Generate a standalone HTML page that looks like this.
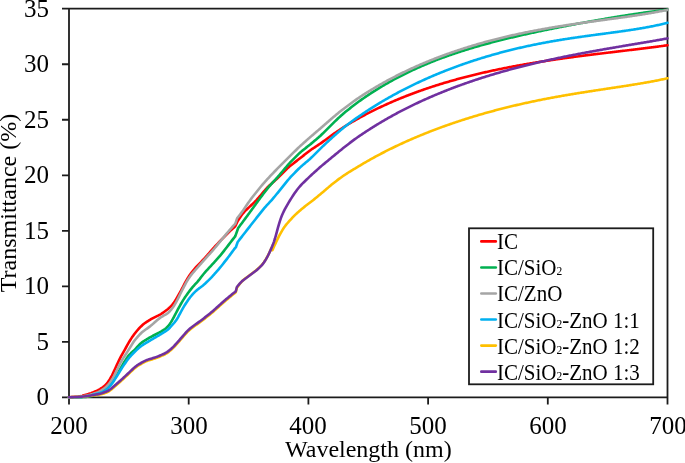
<!DOCTYPE html>
<html><head><meta charset="utf-8"><style>
html,body{margin:0;padding:0;background:#fff;width:685px;height:463px;overflow:hidden}
.t{position:absolute;font-family:"Liberation Serif",serif;color:#000;white-space:nowrap;line-height:1;will-change:transform}
.yl{font-size:25px;text-align:right;width:60px;left:-11.3px}
.xl{font-size:25px;text-align:center;width:80px;top:413.3px}
.lg{font-size:21px;left:497.0px;transform:scaleY(1.05);transform-origin:0 0}
.sub{font-size:11.5px}
svg{position:absolute;left:0;top:0}
</style></head><body>
<svg width="685" height="463" viewBox="0 0 685 463">

<g stroke="#1c1c1c" stroke-width="1.8" fill="none">
<path d="M62.00,8.70 H667.50 V404.40"/>
<path d="M69.00,8.70 V404.40"/>
<path d="M62.00,397.40 H667.50"/>
<path d="M62.00,341.87 H69.00 M62.00,286.34 H69.00 M62.00,230.81 H69.00 M62.00,175.29 H69.00 M62.00,119.76 H69.00 M62.00,64.23 H69.00 M188.70,397.40 V404.40 M308.40,397.40 V404.40 M428.10,397.40 V404.40 M547.80,397.40 V404.40"/>
<rect x="469" y="228.3" width="184.2" height="156"/>
</g>
<g fill="none" stroke-width="2.6" stroke-linecap="round" stroke-linejoin="round">
<path stroke="#FF0000" d="M69.0,397.40 70.0,397.32 71.0,397.24 72.0,397.16 73.0,397.08 74.0,397.00 75.0,396.92 76.0,396.84 77.0,396.75 78.0,396.65 79.0,396.52 80.0,396.35 81.0,396.14 82.0,395.90 83.0,395.62 84.0,395.33 85.0,395.04 86.0,394.74 87.0,394.44 88.0,394.13 89.0,393.81 90.0,393.47 91.0,393.12 92.0,392.74 93.0,392.35 94.0,391.96 95.0,391.56 96.0,391.15 97.0,390.73 98.0,390.25 99.0,389.70 100.0,389.10 101.0,388.46 102.0,387.79 103.0,387.08 104.0,386.31 105.0,385.43 106.0,384.43 107.0,383.29 108.0,382.00 109.0,380.58 110.0,379.01 111.0,377.27 112.0,375.36 113.0,373.31 114.0,371.17 115.0,368.98 116.0,366.79 117.0,364.61 118.0,362.46 119.0,360.38 120.0,358.37 121.0,356.45 122.0,354.60 123.0,352.81 124.0,351.04 125.0,349.27 126.0,347.49 127.0,345.70 128.0,343.91 129.0,342.16 130.0,340.47 131.0,338.87 132.0,337.35 133.0,335.92 134.0,334.55 135.0,333.23 136.0,331.95 137.0,330.73 138.0,329.57 139.0,328.48 140.0,327.44 141.0,326.44 142.0,325.49 143.0,324.59 144.0,323.76 145.0,323.01 146.0,322.32 147.0,321.67 148.0,321.04 149.0,320.42 150.0,319.81 151.0,319.21 152.0,318.64 153.0,318.09 154.0,317.57 155.0,317.07 156.0,316.59 157.0,316.10 158.0,315.62 159.0,315.11 160.0,314.58 161.0,314.00 162.0,313.36 163.0,312.69 164.0,311.97 165.0,311.24 166.0,310.49 167.0,309.72 168.0,308.91 169.0,308.05 170.0,307.13 171.0,306.13 172.0,305.03 173.0,303.81 174.0,302.45 175.0,300.97 176.0,299.39 177.0,297.73 178.0,296.02 179.0,294.25 180.0,292.44 181.0,290.58 182.0,288.69 183.0,286.76 184.0,284.83 185.0,282.92 186.0,281.07 187.0,279.31 188.0,277.65 189.0,276.11 190.0,274.67 191.0,273.30 192.0,271.98 193.0,270.71 194.0,269.48 195.0,268.31 196.0,267.20 197.0,266.14 198.0,265.11 199.0,264.10 200.0,263.09 201.0,262.06 202.0,261.02 203.0,259.95 204.0,258.86 205.0,257.76 206.0,256.64 207.0,255.51 208.0,254.38 209.0,253.25 210.0,252.12 211.0,250.98 212.0,249.85 213.0,248.71 214.0,247.59 215.0,246.49 216.0,245.40 217.0,244.34 218.0,243.29 219.0,242.24 220.0,241.20 221.0,240.16 222.0,239.12 223.0,238.09 224.0,237.07 225.0,236.05 226.0,235.05 227.0,234.07 228.0,233.09 229.0,232.12 230.0,231.14 231.0,230.18 232.0,229.22 233.0,228.30 234.0,227.42 235.0,226.59 235.5,225.80 237.7,221.00 238.7,219.48 239.7,217.97 240.7,216.49 241.7,215.07 242.7,213.75 243.7,212.55 244.7,211.45 245.7,210.43 246.7,209.47 247.7,208.52 248.7,207.59 249.7,206.66 250.7,205.72 251.7,204.79 252.7,203.85 253.7,202.90 254.7,201.93 255.7,200.91 256.7,199.85 257.7,198.74 258.7,197.59 259.7,196.41 260.7,195.22 261.7,194.03 262.7,192.84 263.7,191.65 264.7,190.48 265.7,189.35 266.7,188.25 267.7,187.22 268.7,186.24 269.7,185.30 270.7,184.38 271.7,183.48 272.7,182.58 273.7,181.68 274.7,180.78 275.7,179.87 276.7,178.95 277.7,178.01 278.7,177.04 279.7,176.06 280.7,175.07 281.7,174.06 282.7,173.05 283.7,172.05 284.7,171.04 285.7,170.04 286.7,169.06 287.7,168.12 288.7,167.21 289.7,166.35 290.7,165.53 291.7,164.73 292.7,163.95 293.7,163.18 294.7,162.40 295.7,161.63 296.7,160.85 297.7,160.08 298.7,159.30 299.7,158.52 300.7,157.73 301.7,156.95 302.7,156.16 303.7,155.36 304.7,154.57 305.7,153.78 306.7,152.99 307.7,152.21 308.7,151.45 309.7,150.71 310.7,149.99 311.7,149.30 312.7,148.63 313.7,147.97 314.7,147.31 315.7,146.65 316.7,145.99 317.7,145.33 318.7,144.67 319.7,144.01 320.7,143.32 321.7,142.61 322.7,141.89 323.7,141.16 324.7,140.42 325.7,139.67 326.7,138.92 327.7,138.18 328.7,137.44 329.7,136.70 330.7,135.97 331.7,135.26 332.7,134.55 333.7,133.85 334.7,133.17 335.7,132.49 336.7,131.81 337.7,131.13 338.7,130.46 339.7,129.80 340.7,129.13 341.7,128.47 342.7,127.81 343.7,127.16 344.7,126.51 345.7,125.87 346.7,125.24 347.7,124.61 348.7,124.00 349.7,123.40 350.7,122.80 351.7,122.22 352.7,121.65 353.7,121.08 354.7,120.51 355.7,119.94 356.7,119.37 357.7,118.81 358.7,118.25 359.7,117.69 360.7,117.14 361.7,116.60 362.7,116.06 363.7,115.52 364.7,114.99 365.7,114.47 366.7,113.94 367.7,113.42 368.7,112.91 369.7,112.39 370.7,111.89 371.7,111.38 372.7,110.88 373.7,110.38 374.7,109.89 375.7,109.40 376.7,108.91 377.7,108.43 378.7,107.95 379.7,107.47 380.7,107.00 381.7,106.53 382.7,106.06 383.7,105.60 384.7,105.14 385.7,104.69 386.7,104.23 387.7,103.78 388.7,103.34 389.7,102.89 390.7,102.45 391.7,102.02 392.7,101.58 393.7,101.15 394.7,100.73 395.7,100.30 396.7,99.88 397.7,99.46 398.7,99.05 399.7,98.63 400.7,98.23 401.7,97.82 402.7,97.42 403.7,97.02 404.7,96.62 405.7,96.22 406.7,95.83 407.7,95.44 408.7,95.05 409.7,94.67 410.7,94.29 411.7,93.91 412.7,93.53 413.7,93.16 414.7,92.79 415.7,92.42 416.7,92.06 417.7,91.70 418.7,91.34 419.7,90.98 420.7,90.62 421.7,90.27 422.7,89.92 423.7,89.57 424.7,89.23 425.7,88.89 426.7,88.54 427.7,88.21 428.7,87.87 429.7,87.54 430.7,87.21 431.7,86.88 432.7,86.55 433.7,86.23 434.7,85.91 435.7,85.59 436.7,85.27 437.7,84.96 438.7,84.64 439.7,84.33 440.7,84.02 441.7,83.72 442.7,83.41 443.7,83.11 444.7,82.81 445.7,82.51 446.7,82.22 447.7,81.92 448.7,81.63 449.7,81.34 450.7,81.05 451.7,80.77 452.7,80.49 453.7,80.20 454.7,79.92 455.7,79.65 456.7,79.37 457.7,79.10 458.7,78.82 459.7,78.55 460.7,78.29 461.7,78.02 462.7,77.75 463.7,77.49 464.7,77.23 465.7,76.97 466.7,76.71 467.7,76.46 468.7,76.20 469.7,75.95 470.7,75.70 471.7,75.45 472.7,75.20 473.7,74.96 474.7,74.71 475.7,74.47 476.7,74.23 477.7,73.99 478.7,73.76 479.7,73.52 480.7,73.29 481.7,73.05 482.7,72.82 483.7,72.59 484.7,72.37 485.7,72.14 486.7,71.91 487.7,71.69 488.7,71.47 489.7,71.25 490.7,71.03 491.7,70.81 492.7,70.60 493.7,70.38 494.7,70.17 495.7,69.96 496.7,69.75 497.7,69.54 498.7,69.33 499.7,69.13 500.7,68.92 501.7,68.72 502.7,68.52 503.7,68.32 504.7,68.12 505.7,67.92 506.7,67.72 507.7,67.53 508.7,67.33 509.7,67.14 510.7,66.95 511.7,66.76 512.7,66.57 513.7,66.38 514.7,66.20 515.7,66.01 516.7,65.83 517.7,65.64 518.7,65.46 519.7,65.28 520.7,65.10 521.7,64.92 522.7,64.74 523.7,64.57 524.7,64.39 525.7,64.22 526.7,64.05 527.7,63.87 528.7,63.70 529.7,63.53 530.7,63.37 531.7,63.20 532.7,63.03 533.7,62.87 534.7,62.70 535.7,62.54 536.7,62.38 537.7,62.21 538.7,62.05 539.7,61.89 540.7,61.74 541.7,61.58 542.7,61.42 543.7,61.26 544.7,61.11 545.7,60.96 546.7,60.80 547.7,60.65 548.7,60.50 549.7,60.35 550.7,60.20 551.7,60.05 552.7,59.90 553.7,59.75 554.7,59.61 555.7,59.46 556.7,59.32 557.7,59.17 558.7,59.03 559.7,58.89 560.7,58.74 561.7,58.60 562.7,58.46 563.7,58.32 564.7,58.18 565.7,58.05 566.7,57.91 567.7,57.77 568.7,57.64 569.7,57.50 570.7,57.36 571.7,57.23 572.7,57.10 573.7,56.96 574.7,56.83 575.7,56.70 576.7,56.57 577.7,56.44 578.7,56.31 579.7,56.18 580.7,56.05 581.7,55.92 582.7,55.79 583.7,55.66 584.7,55.53 585.7,55.41 586.7,55.28 587.7,55.15 588.7,55.03 589.7,54.90 590.7,54.78 591.7,54.65 592.7,54.53 593.7,54.41 594.7,54.28 595.7,54.16 596.7,54.04 597.7,53.91 598.7,53.79 599.7,53.67 600.7,53.55 601.7,53.43 602.7,53.31 603.7,53.18 604.7,53.06 605.7,52.94 606.7,52.82 607.7,52.70 608.7,52.58 609.7,52.46 610.7,52.34 611.7,52.22 612.7,52.11 613.7,51.99 614.7,51.87 615.7,51.75 616.7,51.63 617.7,51.51 618.7,51.39 619.7,51.27 620.7,51.15 621.7,51.03 622.7,50.91 623.7,50.79 624.7,50.68 625.7,50.56 626.7,50.44 627.7,50.32 628.7,50.20 629.7,50.08 630.7,49.96 631.7,49.84 632.7,49.72 633.7,49.60 634.7,49.48 635.7,49.35 636.7,49.23 637.7,49.11 638.7,48.99 639.7,48.87 640.7,48.74 641.7,48.62 642.7,48.50 643.7,48.37 644.7,48.25 645.7,48.12 646.7,48.00 647.7,47.87 648.7,47.75 649.7,47.62 650.7,47.49 651.7,47.37 652.7,47.24 653.7,47.11 654.7,46.98 655.7,46.85 656.7,46.72 657.7,46.59 658.7,46.45 659.7,46.32 660.7,46.19 661.7,46.05 662.7,45.92 663.7,45.78 664.7,45.64 665.7,45.51 666.7,45.37 667.5,45.26"/>
<path stroke="#00B050" d="M69.0,397.40 70.0,397.38 71.0,397.36 72.0,397.33 73.0,397.31 74.0,397.29 75.0,397.27 76.0,397.25 77.0,397.22 78.0,397.20 79.0,397.18 80.0,397.16 81.0,397.14 82.0,397.11 83.0,397.07 84.0,397.02 85.0,396.94 86.0,396.84 87.0,396.71 88.0,396.57 89.0,396.42 90.0,396.26 91.0,396.10 92.0,395.93 93.0,395.74 94.0,395.50 95.0,395.21 96.0,394.84 97.0,394.41 98.0,393.95 99.0,393.45 100.0,392.95 101.0,392.42 102.0,391.86 103.0,391.27 104.0,390.63 105.0,389.87 106.0,389.05 107.0,388.19 108.0,387.28 109.0,386.29 110.0,385.19 111.0,383.95 112.0,382.60 113.0,381.16 114.0,379.63 115.0,378.03 116.0,376.35 117.0,374.61 118.0,372.83 119.0,371.04 120.0,369.27 121.0,367.53 122.0,365.82 123.0,364.15 124.0,362.51 125.0,360.90 126.0,359.33 127.0,357.82 128.0,356.43 129.0,355.17 130.0,354.06 131.0,353.07 132.0,352.16 133.0,351.26 134.0,350.33 135.0,349.33 136.0,348.28 137.0,347.20 138.0,346.10 139.0,345.04 140.0,344.05 141.0,343.15 142.0,342.36 143.0,341.65 144.0,341.00 145.0,340.38 146.0,339.77 147.0,339.17 148.0,338.57 149.0,337.97 150.0,337.39 151.0,336.82 152.0,336.27 153.0,335.74 154.0,335.23 155.0,334.72 156.0,334.23 157.0,333.72 158.0,333.21 159.0,332.69 160.0,332.13 161.0,331.56 162.0,330.95 163.0,330.33 164.0,329.68 165.0,328.99 166.0,328.22 167.0,327.32 168.0,326.26 169.0,325.03 170.0,323.64 171.0,322.12 172.0,320.47 173.0,318.71 174.0,316.85 175.0,314.94 176.0,313.01 177.0,311.09 178.0,309.20 179.0,307.34 180.0,305.52 181.0,303.75 182.0,302.03 183.0,300.39 184.0,298.83 185.0,297.32 186.0,295.86 187.0,294.43 188.0,293.03 189.0,291.68 190.0,290.36 191.0,289.08 192.0,287.84 193.0,286.65 194.0,285.52 195.0,284.45 196.0,283.41 197.0,282.33 198.0,281.17 199.0,279.92 200.0,278.61 201.0,277.28 202.0,275.97 203.0,274.71 204.0,273.51 205.0,272.36 206.0,271.24 207.0,270.15 208.0,269.06 209.0,267.98 210.0,266.89 211.0,265.80 212.0,264.71 213.0,263.62 214.0,262.52 215.0,261.42 216.0,260.31 217.0,259.20 218.0,258.09 219.0,256.96 220.0,255.81 221.0,254.63 222.0,253.40 223.0,252.14 224.0,250.86 225.0,249.57 226.0,248.27 227.0,246.97 228.0,245.66 229.0,244.35 230.0,243.02 231.0,241.69 232.0,240.37 233.0,239.08 234.0,237.86 235.0,236.70 235.5,235.60 238.2,228.00 239.2,226.67 240.2,225.33 241.2,224.00 242.2,222.67 243.2,221.33 244.2,219.99 245.2,218.65 246.2,217.30 247.2,215.93 248.2,214.56 249.2,213.19 250.2,211.80 251.2,210.42 252.2,209.04 253.2,207.66 254.2,206.27 255.2,204.89 256.2,203.51 257.2,202.14 258.2,200.78 259.2,199.43 260.2,198.08 261.2,196.75 262.2,195.41 263.2,194.08 264.2,192.76 265.2,191.44 266.2,190.14 267.2,188.87 268.2,187.64 269.2,186.45 270.2,185.31 271.2,184.18 272.2,183.07 273.2,181.97 274.2,180.87 275.2,179.76 276.2,178.66 277.2,177.54 278.2,176.41 279.2,175.26 280.2,174.10 281.2,172.92 282.2,171.74 283.2,170.54 284.2,169.35 285.2,168.16 286.2,166.97 287.2,165.79 288.2,164.63 289.2,163.50 290.2,162.41 291.2,161.35 292.2,160.32 293.2,159.31 294.2,158.30 295.2,157.30 296.2,156.30 297.2,155.32 298.2,154.34 299.2,153.40 300.2,152.49 301.2,151.63 302.2,150.80 303.2,149.99 304.2,149.20 305.2,148.41 306.2,147.62 307.2,146.83 308.2,146.04 309.2,145.24 310.2,144.44 311.2,143.62 312.2,142.79 313.2,141.95 314.2,141.10 315.2,140.25 316.2,139.40 317.2,138.55 318.2,137.69 319.2,136.83 320.2,135.95 321.2,135.01 322.2,134.05 323.2,133.07 324.2,132.07 325.2,131.07 326.2,130.06 327.2,129.06 328.2,128.06 329.2,127.06 330.2,126.07 331.2,125.08 332.2,124.10 333.2,123.12 334.2,122.14 335.2,121.17 336.2,120.21 337.2,119.26 338.2,118.31 339.2,117.38 340.2,116.45 341.2,115.55 342.2,114.66 343.2,113.79 344.2,112.95 345.2,112.12 346.2,111.31 347.2,110.51 348.2,109.70 349.2,108.91 350.2,108.12 351.2,107.33 352.2,106.54 353.2,105.76 354.2,104.97 355.2,104.20 356.2,103.44 357.2,102.69 358.2,101.96 359.2,101.25 360.2,100.56 361.2,99.85 362.2,99.15 363.2,98.45 364.2,97.76 365.2,97.08 366.2,96.40 367.2,95.73 368.2,95.06 369.2,94.39 370.2,93.74 371.2,93.08 372.2,92.44 373.2,91.79 374.2,91.16 375.2,90.53 376.2,89.90 377.2,89.28 378.2,88.66 379.2,88.05 380.2,87.44 381.2,86.84 382.2,86.24 383.2,85.65 384.2,85.06 385.2,84.48 386.2,83.90 387.2,83.32 388.2,82.75 389.2,82.19 390.2,81.63 391.2,81.07 392.2,80.52 393.2,79.98 394.2,79.43 395.2,78.90 396.2,78.36 397.2,77.83 398.2,77.31 399.2,76.79 400.2,76.27 401.2,75.76 402.2,75.25 403.2,74.74 404.2,74.24 405.2,73.75 406.2,73.25 407.2,72.77 408.2,72.28 409.2,71.80 410.2,71.32 411.2,70.85 412.2,70.38 413.2,69.91 414.2,69.45 415.2,68.99 416.2,68.54 417.2,68.09 418.2,67.64 419.2,67.20 420.2,66.76 421.2,66.32 422.2,65.89 423.2,65.46 424.2,65.03 425.2,64.61 426.2,64.19 427.2,63.77 428.2,63.36 429.2,62.95 430.2,62.54 431.2,62.14 432.2,61.73 433.2,61.34 434.2,60.94 435.2,60.55 436.2,60.16 437.2,59.78 438.2,59.39 439.2,59.01 440.2,58.64 441.2,58.26 442.2,57.89 443.2,57.52 444.2,57.16 445.2,56.80 446.2,56.44 447.2,56.08 448.2,55.72 449.2,55.37 450.2,55.02 451.2,54.68 452.2,54.33 453.2,53.99 454.2,53.65 455.2,53.31 456.2,52.98 457.2,52.65 458.2,52.32 459.2,51.99 460.2,51.66 461.2,51.34 462.2,51.02 463.2,50.70 464.2,50.39 465.2,50.07 466.2,49.76 467.2,49.45 468.2,49.14 469.2,48.84 470.2,48.53 471.2,48.23 472.2,47.93 473.2,47.64 474.2,47.34 475.2,47.05 476.2,46.76 477.2,46.47 478.2,46.18 479.2,45.89 480.2,45.61 481.2,45.33 482.2,45.05 483.2,44.77 484.2,44.49 485.2,44.22 486.2,43.94 487.2,43.67 488.2,43.40 489.2,43.13 490.2,42.87 491.2,42.60 492.2,42.34 493.2,42.07 494.2,41.81 495.2,41.55 496.2,41.30 497.2,41.04 498.2,40.78 499.2,40.53 500.2,40.28 501.2,40.03 502.2,39.78 503.2,39.53 504.2,39.28 505.2,39.04 506.2,38.79 507.2,38.55 508.2,38.31 509.2,38.07 510.2,37.83 511.2,37.59 512.2,37.36 513.2,37.12 514.2,36.89 515.2,36.65 516.2,36.42 517.2,36.19 518.2,35.96 519.2,35.73 520.2,35.50 521.2,35.27 522.2,35.05 523.2,34.82 524.2,34.60 525.2,34.38 526.2,34.15 527.2,33.93 528.2,33.71 529.2,33.49 530.2,33.28 531.2,33.06 532.2,32.84 533.2,32.63 534.2,32.41 535.2,32.20 536.2,31.98 537.2,31.77 538.2,31.56 539.2,31.35 540.2,31.14 541.2,30.93 542.2,30.72 543.2,30.51 544.2,30.31 545.2,30.10 546.2,29.89 547.2,29.69 548.2,29.48 549.2,29.28 550.2,29.08 551.2,28.88 552.2,28.67 553.2,28.47 554.2,28.27 555.2,28.07 556.2,27.88 557.2,27.68 558.2,27.48 559.2,27.28 560.2,27.09 561.2,26.89 562.2,26.69 563.2,26.50 564.2,26.31 565.2,26.11 566.2,25.92 567.2,25.73 568.2,25.53 569.2,25.34 570.2,25.15 571.2,24.96 572.2,24.77 573.2,24.58 574.2,24.40 575.2,24.21 576.2,24.02 577.2,23.83 578.2,23.65 579.2,23.46 580.2,23.28 581.2,23.09 582.2,22.91 583.2,22.72 584.2,22.54 585.2,22.36 586.2,22.17 587.2,21.99 588.2,21.81 589.2,21.63 590.2,21.45 591.2,21.27 592.2,21.09 593.2,20.91 594.2,20.74 595.2,20.56 596.2,20.38 597.2,20.21 598.2,20.03 599.2,19.85 600.2,19.68 601.2,19.51 602.2,19.33 603.2,19.16 604.2,18.99 605.2,18.81 606.2,18.64 607.2,18.47 608.2,18.30 609.2,18.13 610.2,17.96 611.2,17.80 612.2,17.63 613.2,17.46 614.2,17.30 615.2,17.13 616.2,16.97 617.2,16.80 618.2,16.64 619.2,16.47 620.2,16.31 621.2,16.15 622.2,15.99 623.2,15.83 624.2,15.67 625.2,15.51 626.2,15.35 627.2,15.20 628.2,15.04 629.2,14.89 630.2,14.73 631.2,14.58 632.2,14.42 633.2,14.27 634.2,14.12 635.2,13.97 636.2,13.82 637.2,13.67 638.2,13.52 639.2,13.38 640.2,13.23 641.2,13.09 642.2,12.94 643.2,12.80 644.2,12.66 645.2,12.52 646.2,12.38 647.2,12.24 648.2,12.10 649.2,11.97 650.2,11.83 651.2,11.70 652.2,11.57 653.2,11.43 654.2,11.30 655.2,11.17 656.2,11.05 657.2,10.92 658.2,10.79 659.2,10.67 660.2,10.55 661.2,10.43 662.2,10.31 663.2,10.19 664.2,10.07 665.2,9.96 666.2,9.84 667.2,9.73 667.5,9.70"/>
<path stroke="#A5A5A5" d="M69.0,397.40 70.0,397.35 71.0,397.30 72.0,397.26 73.0,397.21 74.0,397.16 75.0,397.11 76.0,397.06 77.0,397.01 78.0,396.95 79.0,396.86 80.0,396.76 81.0,396.62 82.0,396.45 83.0,396.26 84.0,396.07 85.0,395.87 86.0,395.67 87.0,395.46 88.0,395.25 89.0,395.02 90.0,394.77 91.0,394.49 92.0,394.19 93.0,393.88 94.0,393.56 95.0,393.23 96.0,392.88 97.0,392.51 98.0,392.10 99.0,391.64 100.0,391.12 101.0,390.56 102.0,389.90 103.0,389.20 104.0,388.49 105.0,387.73 106.0,386.92 107.0,386.00 108.0,384.95 109.0,383.78 110.0,382.49 111.0,381.09 112.0,379.57 113.0,377.90 114.0,376.10 115.0,374.17 116.0,372.15 117.0,370.06 118.0,367.95 119.0,365.86 120.0,363.85 121.0,361.98 122.0,360.23 123.0,358.59 124.0,357.01 125.0,355.46 126.0,353.94 127.0,352.40 128.0,350.84 129.0,349.24 130.0,347.61 131.0,345.97 132.0,344.35 133.0,342.79 134.0,341.33 135.0,339.98 136.0,338.72 137.0,337.54 138.0,336.39 139.0,335.29 140.0,334.22 141.0,333.22 142.0,332.30 143.0,331.47 144.0,330.70 145.0,329.98 146.0,329.28 147.0,328.59 148.0,327.88 149.0,327.15 150.0,326.39 151.0,325.58 152.0,324.74 153.0,323.87 154.0,322.98 155.0,322.09 156.0,321.20 157.0,320.31 158.0,319.45 159.0,318.64 160.0,317.88 161.0,317.20 162.0,316.59 163.0,316.01 164.0,315.46 165.0,314.90 166.0,314.32 167.0,313.67 168.0,312.92 169.0,312.03 170.0,310.99 171.0,309.83 172.0,308.56 173.0,307.21 174.0,305.73 175.0,304.12 176.0,302.37 177.0,300.50 178.0,298.55 179.0,296.56 180.0,294.54 181.0,292.53 182.0,290.53 183.0,288.57 184.0,286.65 185.0,284.78 186.0,282.97 187.0,281.20 188.0,279.51 189.0,277.92 190.0,276.44 191.0,275.10 192.0,273.85 193.0,272.67 194.0,271.53 195.0,270.40 196.0,269.26 197.0,268.13 198.0,266.99 199.0,265.84 200.0,264.70 201.0,263.56 202.0,262.42 203.0,261.29 204.0,260.16 205.0,259.05 206.0,257.94 207.0,256.83 208.0,255.73 209.0,254.63 210.0,253.52 211.0,252.41 212.0,251.28 213.0,250.14 214.0,248.97 215.0,247.78 216.0,246.57 217.0,245.35 218.0,244.13 219.0,242.91 220.0,241.69 221.0,240.47 222.0,239.25 223.0,238.03 224.0,236.81 225.0,235.60 226.0,234.40 227.0,233.21 228.0,232.02 229.0,230.84 230.0,229.67 231.0,228.50 232.0,227.34 233.0,226.22 234.0,225.16 235.0,224.15 235.5,223.20 237.1,218.30 238.1,217.01 239.1,215.72 240.1,214.42 241.1,213.11 242.1,211.77 243.1,210.39 244.1,208.96 245.1,207.50 246.1,206.02 247.1,204.54 248.1,203.07 249.1,201.63 250.1,200.24 251.1,198.89 252.1,197.58 253.1,196.29 254.1,195.02 255.1,193.75 256.1,192.48 257.1,191.21 258.1,189.95 259.1,188.69 260.1,187.45 261.1,186.24 262.1,185.06 263.1,183.91 264.1,182.79 265.1,181.68 266.1,180.58 267.1,179.49 268.1,178.40 269.1,177.31 270.1,176.22 271.1,175.15 272.1,174.08 273.1,173.04 274.1,172.00 275.1,170.98 276.1,169.97 277.1,168.96 278.1,167.95 279.1,166.94 280.1,165.93 281.1,164.92 282.1,163.91 283.1,162.91 284.1,161.90 285.1,160.90 286.1,159.90 287.1,158.90 288.1,157.90 289.1,156.90 290.1,155.90 291.1,154.90 292.1,153.91 293.1,152.92 294.1,151.93 295.1,150.95 296.1,149.98 297.1,149.01 298.1,148.05 299.1,147.10 300.1,146.17 301.1,145.25 302.1,144.34 303.1,143.45 304.1,142.56 305.1,141.67 306.1,140.78 307.1,139.89 308.1,139.00 309.1,138.12 310.1,137.24 311.1,136.37 312.1,135.50 313.1,134.65 314.1,133.79 315.1,132.94 316.1,132.09 317.1,131.23 318.1,130.38 319.1,129.53 320.1,128.68 321.1,127.80 322.1,126.92 323.1,126.04 324.1,125.16 325.1,124.28 326.1,123.41 327.1,122.53 328.1,121.66 329.1,120.79 330.1,119.92 331.1,119.05 332.1,118.20 333.1,117.35 334.1,116.50 335.1,115.67 336.1,114.83 337.1,114.01 338.1,113.18 339.1,112.36 340.1,111.55 341.1,110.75 342.1,109.96 343.1,109.18 344.1,108.42 345.1,107.67 346.1,106.92 347.1,106.18 348.1,105.44 349.1,104.71 350.1,103.98 351.1,103.25 352.1,102.52 353.1,101.79 354.1,101.05 355.1,100.33 356.1,99.61 357.1,98.91 358.1,98.22 359.1,97.56 360.1,96.91 361.1,96.26 362.1,95.61 363.1,94.96 364.1,94.32 365.1,93.68 366.1,93.05 367.1,92.42 368.1,91.80 369.1,91.18 370.1,90.57 371.1,89.96 372.1,89.35 373.1,88.75 374.1,88.15 375.1,87.56 376.1,86.97 377.1,86.39 378.1,85.81 379.1,85.23 380.1,84.66 381.1,84.09 382.1,83.52 383.1,82.96 384.1,82.41 385.1,81.86 386.1,81.31 387.1,80.76 388.1,80.22 389.1,79.68 390.1,79.15 391.1,78.62 392.1,78.09 393.1,77.57 394.1,77.05 395.1,76.54 396.1,76.02 397.1,75.51 398.1,75.01 399.1,74.51 400.1,74.01 401.1,73.52 402.1,73.02 403.1,72.54 404.1,72.05 405.1,71.57 406.1,71.09 407.1,70.62 408.1,70.15 409.1,69.68 410.1,69.22 411.1,68.75 412.1,68.30 413.1,67.84 414.1,67.39 415.1,66.94 416.1,66.49 417.1,66.05 418.1,65.61 419.1,65.17 420.1,64.74 421.1,64.31 422.1,63.88 423.1,63.45 424.1,63.03 425.1,62.61 426.1,62.20 427.1,61.78 428.1,61.37 429.1,60.96 430.1,60.56 431.1,60.16 432.1,59.76 433.1,59.36 434.1,58.97 435.1,58.57 436.1,58.19 437.1,57.80 438.1,57.42 439.1,57.04 440.1,56.66 441.1,56.28 442.1,55.91 443.1,55.54 444.1,55.17 445.1,54.80 446.1,54.44 447.1,54.08 448.1,53.72 449.1,53.37 450.1,53.01 451.1,52.66 452.1,52.32 453.1,51.97 454.1,51.63 455.1,51.29 456.1,50.95 457.1,50.61 458.1,50.28 459.1,49.95 460.1,49.62 461.1,49.29 462.1,48.97 463.1,48.64 464.1,48.32 465.1,48.00 466.1,47.69 467.1,47.38 468.1,47.06 469.1,46.76 470.1,46.45 471.1,46.14 472.1,45.84 473.1,45.54 474.1,45.24 475.1,44.95 476.1,44.65 477.1,44.36 478.1,44.07 479.1,43.78 480.1,43.50 481.1,43.21 482.1,42.93 483.1,42.65 484.1,42.37 485.1,42.10 486.1,41.82 487.1,41.55 488.1,41.28 489.1,41.02 490.1,40.75 491.1,40.49 492.1,40.22 493.1,39.96 494.1,39.70 495.1,39.45 496.1,39.19 497.1,38.94 498.1,38.69 499.1,38.44 500.1,38.19 501.1,37.95 502.1,37.71 503.1,37.46 504.1,37.22 505.1,36.99 506.1,36.75 507.1,36.51 508.1,36.28 509.1,36.05 510.1,35.82 511.1,35.59 512.1,35.37 513.1,35.14 514.1,34.92 515.1,34.70 516.1,34.48 517.1,34.26 518.1,34.04 519.1,33.83 520.1,33.61 521.1,33.40 522.1,33.19 523.1,32.98 524.1,32.78 525.1,32.57 526.1,32.37 527.1,32.17 528.1,31.96 529.1,31.76 530.1,31.57 531.1,31.37 532.1,31.18 533.1,30.98 534.1,30.79 535.1,30.60 536.1,30.41 537.1,30.22 538.1,30.03 539.1,29.85 540.1,29.66 541.1,29.48 542.1,29.30 543.1,29.12 544.1,28.94 545.1,28.76 546.1,28.59 547.1,28.41 548.1,28.24 549.1,28.06 550.1,27.89 551.1,27.72 552.1,27.55 553.1,27.38 554.1,27.22 555.1,27.05 556.1,26.88 557.1,26.72 558.1,26.56 559.1,26.40 560.1,26.24 561.1,26.08 562.1,25.92 563.1,25.76 564.1,25.60 565.1,25.45 566.1,25.29 567.1,25.14 568.1,24.98 569.1,24.83 570.1,24.68 571.1,24.53 572.1,24.38 573.1,24.23 574.1,24.08 575.1,23.93 576.1,23.79 577.1,23.64 578.1,23.49 579.1,23.35 580.1,23.20 581.1,23.06 582.1,22.92 583.1,22.78 584.1,22.63 585.1,22.49 586.1,22.35 587.1,22.21 588.1,22.07 589.1,21.93 590.1,21.79 591.1,21.65 592.1,21.51 593.1,21.38 594.1,21.24 595.1,21.10 596.1,20.96 597.1,20.83 598.1,20.69 599.1,20.55 600.1,20.42 601.1,20.28 602.1,20.15 603.1,20.01 604.1,19.87 605.1,19.74 606.1,19.60 607.1,19.47 608.1,19.33 609.1,19.19 610.1,19.06 611.1,18.92 612.1,18.78 613.1,18.65 614.1,18.51 615.1,18.37 616.1,18.24 617.1,18.10 618.1,17.96 619.1,17.82 620.1,17.68 621.1,17.54 622.1,17.40 623.1,17.26 624.1,17.12 625.1,16.98 626.1,16.84 627.1,16.69 628.1,16.55 629.1,16.41 630.1,16.26 631.1,16.11 632.1,15.97 633.1,15.82 634.1,15.67 635.1,15.52 636.1,15.37 637.1,15.22 638.1,15.07 639.1,14.91 640.1,14.76 641.1,14.60 642.1,14.44 643.1,14.28 644.1,14.12 645.1,13.96 646.1,13.80 647.1,13.63 648.1,13.47 649.1,13.30 650.1,13.13 651.1,12.96 652.1,12.79 653.1,12.62 654.1,12.44 655.1,12.26 656.1,12.08 657.1,11.90 658.1,11.72 659.1,11.53 660.1,11.34 661.1,11.15 662.1,10.96 663.1,10.77 664.1,10.57 665.1,10.37 666.1,10.17 667.1,9.97 667.5,9.89"/>
<path stroke="#00B0F0" d="M69.0,397.40 70.0,397.37 71.0,397.34 72.0,397.30 73.0,397.27 74.0,397.24 75.0,397.21 76.0,397.18 77.0,397.14 78.0,397.10 79.0,397.04 80.0,396.97 81.0,396.88 82.0,396.77 83.0,396.65 84.0,396.52 85.0,396.39 86.0,396.26 87.0,396.12 88.0,395.98 89.0,395.81 90.0,395.62 91.0,395.40 92.0,395.15 93.0,394.88 94.0,394.60 95.0,394.32 96.0,394.04 97.0,393.76 98.0,393.47 99.0,393.19 100.0,392.89 101.0,392.56 102.0,392.18 103.0,391.73 104.0,391.19 105.0,390.57 106.0,389.83 107.0,389.01 108.0,388.13 109.0,387.16 110.0,386.08 111.0,384.87 112.0,383.55 113.0,382.14 114.0,380.67 115.0,379.14 116.0,377.57 117.0,375.96 118.0,374.34 119.0,372.71 120.0,371.09 121.0,369.49 122.0,367.91 123.0,366.37 124.0,364.86 125.0,363.40 126.0,361.98 127.0,360.60 128.0,359.27 129.0,357.99 130.0,356.78 131.0,355.63 132.0,354.56 133.0,353.53 134.0,352.53 135.0,351.56 136.0,350.60 137.0,349.66 138.0,348.73 139.0,347.84 140.0,347.00 141.0,346.21 142.0,345.49 143.0,344.82 144.0,344.19 145.0,343.58 146.0,342.97 147.0,342.37 148.0,341.77 149.0,341.17 150.0,340.57 151.0,339.98 152.0,339.39 153.0,338.81 154.0,338.23 155.0,337.65 156.0,337.08 157.0,336.50 158.0,335.92 159.0,335.32 160.0,334.73 161.0,334.12 162.0,333.51 163.0,332.89 164.0,332.27 165.0,331.64 166.0,330.98 167.0,330.26 168.0,329.44 169.0,328.52 170.0,327.48 171.0,326.38 172.0,325.25 173.0,324.13 174.0,323.00 175.0,321.80 176.0,320.48 177.0,318.97 178.0,317.29 179.0,315.48 180.0,313.61 181.0,311.75 182.0,309.92 183.0,308.15 184.0,306.45 185.0,304.79 186.0,303.20 187.0,301.68 188.0,300.23 189.0,298.84 190.0,297.52 191.0,296.26 192.0,295.06 193.0,293.93 194.0,292.87 195.0,291.88 196.0,290.93 197.0,290.04 198.0,289.20 199.0,288.41 200.0,287.67 201.0,286.94 202.0,286.20 203.0,285.42 204.0,284.58 205.0,283.68 206.0,282.75 207.0,281.81 208.0,280.85 209.0,279.88 210.0,278.89 211.0,277.86 212.0,276.81 213.0,275.72 214.0,274.61 215.0,273.48 216.0,272.36 217.0,271.22 218.0,270.07 219.0,268.90 220.0,267.69 221.0,266.47 222.0,265.21 223.0,263.95 224.0,262.67 225.0,261.39 226.0,260.11 227.0,258.83 228.0,257.53 229.0,256.22 230.0,254.88 231.0,253.52 232.0,252.13 233.0,250.76 234.0,249.43 235.0,248.18 236.0,247.05 236.3,246.00 237.7,242.00 238.7,240.71 239.7,239.41 240.7,238.12 241.7,236.83 242.7,235.54 243.7,234.25 244.7,232.96 245.7,231.68 246.7,230.40 247.7,229.12 248.7,227.85 249.7,226.58 250.7,225.31 251.7,224.03 252.7,222.76 253.7,221.49 254.7,220.22 255.7,218.95 256.7,217.67 257.7,216.40 258.7,215.13 259.7,213.86 260.7,212.59 261.7,211.33 262.7,210.08 263.7,208.86 264.7,207.68 265.7,206.54 266.7,205.44 267.7,204.37 268.7,203.31 269.7,202.23 270.7,201.13 271.7,200.01 272.7,198.85 273.7,197.66 274.7,196.46 275.7,195.25 276.7,194.03 277.7,192.81 278.7,191.59 279.7,190.37 280.7,189.14 281.7,187.90 282.7,186.66 283.7,185.41 284.7,184.15 285.7,182.90 286.7,181.66 287.7,180.43 288.7,179.23 289.7,178.07 290.7,176.96 291.7,175.89 292.7,174.85 293.7,173.82 294.7,172.80 295.7,171.78 296.7,170.77 297.7,169.77 298.7,168.78 299.7,167.82 300.7,166.90 301.7,166.01 302.7,165.14 303.7,164.29 304.7,163.44 305.7,162.60 306.7,161.75 307.7,160.90 308.7,160.04 309.7,159.17 310.7,158.26 311.7,157.32 312.7,156.35 313.7,155.36 314.7,154.36 315.7,153.35 316.7,152.34 317.7,151.34 318.7,150.34 319.7,149.35 320.7,148.36 321.7,147.38 322.7,146.42 323.7,145.47 324.7,144.52 325.7,143.58 326.7,142.64 327.7,141.71 328.7,140.78 329.7,139.86 330.7,138.94 331.7,138.03 332.7,137.13 333.7,136.23 334.7,135.34 335.7,134.45 336.7,133.57 337.7,132.70 338.7,131.83 339.7,130.97 340.7,130.12 341.7,129.27 342.7,128.44 343.7,127.61 344.7,126.80 345.7,126.00 346.7,125.21 347.7,124.44 348.7,123.67 349.7,122.92 350.7,122.18 351.7,121.44 352.7,120.72 353.7,120.01 354.7,119.31 355.7,118.63 356.7,117.94 357.7,117.26 358.7,116.58 359.7,115.90 360.7,115.21 361.7,114.53 362.7,113.85 363.7,113.17 364.7,112.50 365.7,111.83 366.7,111.17 367.7,110.51 368.7,109.85 369.7,109.21 370.7,108.56 371.7,107.92 372.7,107.29 373.7,106.66 374.7,106.03 375.7,105.41 376.7,104.79 377.7,104.18 378.7,103.57 379.7,102.96 380.7,102.36 381.7,101.76 382.7,101.17 383.7,100.58 384.7,100.00 385.7,99.42 386.7,98.84 387.7,98.27 388.7,97.70 389.7,97.13 390.7,96.57 391.7,96.01 392.7,95.46 393.7,94.91 394.7,94.36 395.7,93.82 396.7,93.28 397.7,92.74 398.7,92.21 399.7,91.68 400.7,91.15 401.7,90.63 402.7,90.11 403.7,89.60 404.7,89.08 405.7,88.57 406.7,88.07 407.7,87.57 408.7,87.07 409.7,86.57 410.7,86.08 411.7,85.59 412.7,85.10 413.7,84.62 414.7,84.14 415.7,83.66 416.7,83.19 417.7,82.71 418.7,82.25 419.7,81.78 420.7,81.32 421.7,80.86 422.7,80.40 423.7,79.95 424.7,79.50 425.7,79.05 426.7,78.60 427.7,78.16 428.7,77.72 429.7,77.29 430.7,76.85 431.7,76.42 432.7,75.99 433.7,75.57 434.7,75.14 435.7,74.72 436.7,74.30 437.7,73.89 438.7,73.48 439.7,73.07 440.7,72.66 441.7,72.26 442.7,71.85 443.7,71.45 444.7,71.06 445.7,70.66 446.7,70.27 447.7,69.88 448.7,69.49 449.7,69.11 450.7,68.73 451.7,68.35 452.7,67.97 453.7,67.60 454.7,67.23 455.7,66.86 456.7,66.49 457.7,66.12 458.7,65.76 459.7,65.40 460.7,65.04 461.7,64.69 462.7,64.34 463.7,63.98 464.7,63.64 465.7,63.29 466.7,62.95 467.7,62.61 468.7,62.27 469.7,61.93 470.7,61.60 471.7,61.26 472.7,60.93 473.7,60.61 474.7,60.28 475.7,59.96 476.7,59.64 477.7,59.32 478.7,59.00 479.7,58.69 480.7,58.38 481.7,58.07 482.7,57.76 483.7,57.45 484.7,57.15 485.7,56.85 486.7,56.55 487.7,56.26 488.7,55.96 489.7,55.67 490.7,55.38 491.7,55.09 492.7,54.80 493.7,54.52 494.7,54.24 495.7,53.96 496.7,53.68 497.7,53.41 498.7,53.13 499.7,52.86 500.7,52.59 501.7,52.33 502.7,52.06 503.7,51.80 504.7,51.54 505.7,51.28 506.7,51.02 507.7,50.77 508.7,50.51 509.7,50.26 510.7,50.01 511.7,49.77 512.7,49.52 513.7,49.28 514.7,49.04 515.7,48.80 516.7,48.56 517.7,48.33 518.7,48.09 519.7,47.86 520.7,47.63 521.7,47.41 522.7,47.18 523.7,46.96 524.7,46.73 525.7,46.51 526.7,46.30 527.7,46.08 528.7,45.86 529.7,45.65 530.7,45.44 531.7,45.23 532.7,45.02 533.7,44.82 534.7,44.61 535.7,44.41 536.7,44.21 537.7,44.01 538.7,43.82 539.7,43.62 540.7,43.43 541.7,43.24 542.7,43.04 543.7,42.86 544.7,42.67 545.7,42.48 546.7,42.30 547.7,42.12 548.7,41.94 549.7,41.76 550.7,41.58 551.7,41.40 552.7,41.23 553.7,41.05 554.7,40.88 555.7,40.71 556.7,40.54 557.7,40.37 558.7,40.21 559.7,40.04 560.7,39.88 561.7,39.72 562.7,39.56 563.7,39.40 564.7,39.24 565.7,39.08 566.7,38.92 567.7,38.77 568.7,38.61 569.7,38.46 570.7,38.31 571.7,38.16 572.7,38.01 573.7,37.86 574.7,37.71 575.7,37.57 576.7,37.42 577.7,37.28 578.7,37.13 579.7,36.99 580.7,36.85 581.7,36.71 582.7,36.56 583.7,36.42 584.7,36.29 585.7,36.15 586.7,36.01 587.7,35.87 588.7,35.73 589.7,35.60 590.7,35.46 591.7,35.33 592.7,35.19 593.7,35.06 594.7,34.92 595.7,34.79 596.7,34.66 597.7,34.52 598.7,34.39 599.7,34.26 600.7,34.13 601.7,33.99 602.7,33.86 603.7,33.73 604.7,33.60 605.7,33.46 606.7,33.33 607.7,33.20 608.7,33.06 609.7,32.93 610.7,32.80 611.7,32.66 612.7,32.53 613.7,32.39 614.7,32.26 615.7,32.12 616.7,31.98 617.7,31.85 618.7,31.71 619.7,31.57 620.7,31.43 621.7,31.29 622.7,31.15 623.7,31.01 624.7,30.86 625.7,30.72 626.7,30.57 627.7,30.43 628.7,30.28 629.7,30.13 630.7,29.98 631.7,29.83 632.7,29.67 633.7,29.52 634.7,29.36 635.7,29.20 636.7,29.04 637.7,28.88 638.7,28.71 639.7,28.55 640.7,28.38 641.7,28.21 642.7,28.04 643.7,27.86 644.7,27.68 645.7,27.50 646.7,27.32 647.7,27.14 648.7,26.95 649.7,26.76 650.7,26.57 651.7,26.37 652.7,26.18 653.7,25.97 654.7,25.77 655.7,25.56 656.7,25.35 657.7,25.14 658.7,24.92 659.7,24.70 660.7,24.47 661.7,24.24 662.7,24.01 663.7,23.78 664.7,23.54 665.7,23.29 666.7,23.04 667.5,22.84"/>
<path stroke="#FFC000" d="M69.0,397.23 70.0,397.19 71.0,397.16 72.0,397.13 73.0,397.10 74.0,397.07 75.0,397.03 76.0,397.00 77.0,396.97 78.0,396.93 79.0,396.88 80.0,396.81 81.0,396.73 82.0,396.63 83.0,396.53 84.0,396.42 85.0,396.31 86.0,396.24 87.0,396.17 88.0,396.10 89.0,396.02 90.0,395.92 91.0,395.81 92.0,395.68 93.0,395.55 94.0,395.41 95.0,395.26 96.0,395.12 97.0,394.97 98.0,394.82 99.0,394.65 100.0,394.47 101.0,394.26 102.0,394.01 103.0,393.73 104.0,393.42 105.0,393.09 106.0,392.70 107.0,392.28 108.0,391.81 109.0,391.25 110.0,390.55 111.0,389.76 112.0,388.92 113.0,388.06 114.0,387.18 115.0,386.30 116.0,385.42 117.0,384.55 118.0,383.68 119.0,382.80 120.0,381.93 121.0,381.05 122.0,380.15 123.0,379.25 124.0,378.32 125.0,377.38 126.0,376.43 127.0,375.47 128.0,374.52 129.0,373.57 130.0,372.62 131.0,371.67 132.0,370.73 133.0,369.80 134.0,368.89 135.0,368.01 136.0,367.19 137.0,366.44 138.0,365.77 139.0,365.15 140.0,364.56 141.0,364.00 142.0,363.44 143.0,362.89 144.0,362.36 145.0,361.86 146.0,361.39 147.0,360.98 148.0,360.62 149.0,360.29 150.0,359.98 151.0,359.68 152.0,359.38 153.0,359.08 154.0,358.78 155.0,358.47 156.0,358.14 157.0,357.79 158.0,357.40 159.0,356.99 160.0,356.56 161.0,356.12 162.0,355.68 163.0,355.23 164.0,354.76 165.0,354.26 166.0,353.71 167.0,353.08 168.0,352.38 169.0,351.61 170.0,350.78 171.0,349.93 172.0,349.02 173.0,348.07 174.0,347.06 175.0,346.00 176.0,344.90 177.0,343.78 178.0,342.65 179.0,341.52 180.0,340.37 181.0,339.22 182.0,338.07 183.0,336.91 184.0,335.75 185.0,334.61 186.0,333.49 187.0,332.42 188.0,331.40 189.0,330.44 190.0,329.55 191.0,328.71 192.0,327.93 193.0,327.18 194.0,326.46 195.0,325.75 196.0,325.04 197.0,324.34 198.0,323.63 199.0,322.92 200.0,322.20 201.0,321.47 202.0,320.72 203.0,319.96 204.0,319.18 205.0,318.39 206.0,317.60 207.0,316.80 208.0,316.00 209.0,315.20 210.0,314.40 211.0,313.58 212.0,312.75 213.0,311.90 214.0,311.02 215.0,310.13 216.0,309.23 217.0,308.33 218.0,307.42 219.0,306.52 220.0,305.61 221.0,304.71 222.0,303.82 223.0,302.93 224.0,302.06 225.0,301.20 226.0,300.34 227.0,299.49 228.0,298.64 229.0,297.80 230.0,296.97 231.0,296.15 232.0,295.35 233.0,294.56 234.0,293.79 235.0,293.04 235.8,292.20 236.9,287.75 237.9,286.39 238.9,285.05 239.9,283.76 240.9,282.56 241.9,281.47 242.9,280.47 243.9,279.54 244.9,278.66 245.9,277.92 246.9,277.19 247.9,276.46 248.9,275.73 249.9,274.99 250.9,274.25 251.9,273.51 252.9,272.76 253.9,272.01 254.9,271.24 255.9,270.45 256.9,269.63 257.9,268.75 258.9,267.83 259.9,266.86 260.9,265.84 261.9,264.76 262.9,263.58 263.9,262.25 264.9,260.76 265.9,259.12 266.9,257.38 267.9,255.52 268.9,253.56 269.9,251.50 270.9,249.34 271.9,247.07 272.4,250.30 273.4,248.06 274.4,245.82 275.4,243.61 276.4,241.45 277.4,239.37 278.4,237.37 279.4,235.45 280.4,233.61 281.4,231.83 282.4,230.12 283.4,228.50 284.4,227.02 285.4,225.66 286.4,224.42 287.4,223.25 288.4,222.11 289.4,220.99 290.4,219.88 291.4,218.77 292.4,217.68 293.4,216.62 294.4,215.60 295.4,214.62 296.4,213.70 297.4,212.80 298.4,211.92 299.4,211.06 300.4,210.19 301.4,209.34 302.4,208.49 303.4,207.66 304.4,206.86 305.4,206.07 306.4,205.30 307.4,204.53 308.4,203.77 309.4,203.00 310.4,202.24 311.4,201.48 312.4,200.70 313.4,199.92 314.4,199.13 315.4,198.33 316.4,197.52 317.4,196.70 318.4,195.87 319.4,195.05 320.4,194.21 321.4,193.36 322.4,192.51 323.4,191.65 324.4,190.80 325.4,189.94 326.4,189.08 327.4,188.23 328.4,187.37 329.4,186.53 330.4,185.69 331.4,184.86 332.4,184.05 333.4,183.25 334.4,182.46 335.4,181.68 336.4,180.91 337.4,180.15 338.4,179.40 339.4,178.66 340.4,177.92 341.4,177.20 342.4,176.49 343.4,175.80 344.4,175.13 345.4,174.47 346.4,173.81 347.4,173.17 348.4,172.53 349.4,171.90 350.4,171.28 351.4,170.66 352.4,170.06 353.4,169.46 354.4,168.87 355.4,168.27 356.4,167.68 357.4,167.08 358.4,166.48 359.4,165.88 360.4,165.28 361.4,164.68 362.4,164.08 363.4,163.49 364.4,162.91 365.4,162.33 366.4,161.75 367.4,161.17 368.4,160.60 369.4,160.04 370.4,159.47 371.4,158.91 372.4,158.36 373.4,157.81 374.4,157.26 375.4,156.71 376.4,156.17 377.4,155.63 378.4,155.10 379.4,154.57 380.4,154.04 381.4,153.52 382.4,153.00 383.4,152.48 384.4,151.97 385.4,151.45 386.4,150.95 387.4,150.44 388.4,149.94 389.4,149.44 390.4,148.95 391.4,148.46 392.4,147.97 393.4,147.48 394.4,147.00 395.4,146.52 396.4,146.04 397.4,145.57 398.4,145.09 399.4,144.63 400.4,144.16 401.4,143.70 402.4,143.24 403.4,142.78 404.4,142.33 405.4,141.88 406.4,141.43 407.4,140.98 408.4,140.54 409.4,140.10 410.4,139.66 411.4,139.22 412.4,138.79 413.4,138.36 414.4,137.93 415.4,137.50 416.4,137.08 417.4,136.66 418.4,136.24 419.4,135.83 420.4,135.41 421.4,135.00 422.4,134.59 423.4,134.19 424.4,133.78 425.4,133.38 426.4,132.98 427.4,132.59 428.4,132.19 429.4,131.80 430.4,131.41 431.4,131.02 432.4,130.64 433.4,130.25 434.4,129.87 435.4,129.49 436.4,129.12 437.4,128.74 438.4,128.37 439.4,128.00 440.4,127.63 441.4,127.27 442.4,126.90 443.4,126.54 444.4,126.18 445.4,125.82 446.4,125.47 447.4,125.11 448.4,124.76 449.4,124.41 450.4,124.06 451.4,123.72 452.4,123.38 453.4,123.03 454.4,122.69 455.4,122.36 456.4,122.02 457.4,121.69 458.4,121.36 459.4,121.03 460.4,120.70 461.4,120.37 462.4,120.05 463.4,119.72 464.4,119.40 465.4,119.09 466.4,118.77 467.4,118.45 468.4,118.14 469.4,117.83 470.4,117.52 471.4,117.21 472.4,116.91 473.4,116.60 474.4,116.30 475.4,116.00 476.4,115.70 477.4,115.40 478.4,115.11 479.4,114.82 480.4,114.52 481.4,114.23 482.4,113.95 483.4,113.66 484.4,113.37 485.4,113.09 486.4,112.81 487.4,112.53 488.4,112.25 489.4,111.98 490.4,111.70 491.4,111.43 492.4,111.16 493.4,110.89 494.4,110.62 495.4,110.35 496.4,110.09 497.4,109.82 498.4,109.56 499.4,109.30 500.4,109.04 501.4,108.79 502.4,108.53 503.4,108.28 504.4,108.03 505.4,107.78 506.4,107.53 507.4,107.28 508.4,107.03 509.4,106.79 510.4,106.55 511.4,106.31 512.4,106.07 513.4,105.83 514.4,105.59 515.4,105.36 516.4,105.12 517.4,104.89 518.4,104.66 519.4,104.43 520.4,104.20 521.4,103.97 522.4,103.75 523.4,103.53 524.4,103.30 525.4,103.08 526.4,102.86 527.4,102.65 528.4,102.43 529.4,102.21 530.4,102.00 531.4,101.79 532.4,101.58 533.4,101.37 534.4,101.16 535.4,100.95 536.4,100.75 537.4,100.54 538.4,100.34 539.4,100.14 540.4,99.94 541.4,99.74 542.4,99.54 543.4,99.34 544.4,99.15 545.4,98.95 546.4,98.76 547.4,98.57 548.4,98.38 549.4,98.19 550.4,98.00 551.4,97.81 552.4,97.62 553.4,97.44 554.4,97.25 555.4,97.07 556.4,96.89 557.4,96.71 558.4,96.53 559.4,96.35 560.4,96.17 561.4,96.00 562.4,95.82 563.4,95.65 564.4,95.47 565.4,95.30 566.4,95.13 567.4,94.96 568.4,94.79 569.4,94.62 570.4,94.45 571.4,94.28 572.4,94.12 573.4,93.95 574.4,93.79 575.4,93.62 576.4,93.46 577.4,93.30 578.4,93.13 579.4,92.97 580.4,92.81 581.4,92.65 582.4,92.49 583.4,92.34 584.4,92.18 585.4,92.02 586.4,91.86 587.4,91.71 588.4,91.55 589.4,91.40 590.4,91.24 591.4,91.09 592.4,90.93 593.4,90.78 594.4,90.63 595.4,90.48 596.4,90.32 597.4,90.17 598.4,90.02 599.4,89.87 600.4,89.72 601.4,89.57 602.4,89.42 603.4,89.26 604.4,89.11 605.4,88.96 606.4,88.81 607.4,88.66 608.4,88.51 609.4,88.36 610.4,88.21 611.4,88.06 612.4,87.91 613.4,87.76 614.4,87.61 615.4,87.46 616.4,87.30 617.4,87.15 618.4,87.00 619.4,86.85 620.4,86.70 621.4,86.54 622.4,86.39 623.4,86.23 624.4,86.08 625.4,85.92 626.4,85.77 627.4,85.61 628.4,85.45 629.4,85.30 630.4,85.14 631.4,84.98 632.4,84.82 633.4,84.65 634.4,84.49 635.4,84.33 636.4,84.16 637.4,84.00 638.4,83.83 639.4,83.67 640.4,83.50 641.4,83.33 642.4,83.16 643.4,82.98 644.4,82.81 645.4,82.63 646.4,82.46 647.4,82.28 648.4,82.10 649.4,81.92 650.4,81.73 651.4,81.55 652.4,81.36 653.4,81.17 654.4,80.98 655.4,80.79 656.4,80.60 657.4,80.40 658.4,80.20 659.4,80.00 660.4,79.80 661.4,79.59 662.4,79.38 663.4,79.17 664.4,78.96 665.4,78.75 666.4,78.53 667.4,78.31 667.5,78.29"/>
<path stroke="#7030A0" d="M69.0,397.23 70.0,397.19 71.0,397.16 72.0,397.13 73.0,397.10 74.0,397.07 75.0,397.03 76.0,397.00 77.0,396.97 78.0,396.93 79.0,396.88 80.0,396.81 81.0,396.73 82.0,396.63 83.0,396.53 84.0,396.42 85.0,396.31 86.0,396.19 87.0,396.07 88.0,395.95 89.0,395.82 90.0,395.67 91.0,395.51 92.0,395.33 93.0,395.15 94.0,394.96 95.0,394.76 96.0,394.57 97.0,394.37 98.0,394.17 99.0,393.95 100.0,393.72 101.0,393.46 102.0,393.16 103.0,392.83 104.0,392.47 105.0,392.09 106.0,391.70 107.0,391.28 108.0,390.81 109.0,390.25 110.0,389.55 111.0,388.76 112.0,387.92 113.0,387.06 114.0,386.18 115.0,385.30 116.0,384.42 117.0,383.55 118.0,382.68 119.0,381.80 120.0,380.93 121.0,380.05 122.0,379.15 123.0,378.25 124.0,377.32 125.0,376.38 126.0,375.43 127.0,374.47 128.0,373.52 129.0,372.57 130.0,371.62 131.0,370.67 132.0,369.73 133.0,368.80 134.0,367.89 135.0,367.01 136.0,366.19 137.0,365.44 138.0,364.77 139.0,364.15 140.0,363.56 141.0,363.00 142.0,362.44 143.0,361.89 144.0,361.36 145.0,360.86 146.0,360.39 147.0,359.98 148.0,359.62 149.0,359.29 150.0,358.98 151.0,358.68 152.0,358.38 153.0,358.08 154.0,357.78 155.0,357.47 156.0,357.14 157.0,356.79 158.0,356.40 159.0,355.99 160.0,355.56 161.0,355.12 162.0,354.68 163.0,354.23 164.0,353.76 165.0,353.26 166.0,352.71 167.0,352.08 168.0,351.38 169.0,350.61 170.0,349.78 171.0,348.93 172.0,348.02 173.0,347.07 174.0,346.06 175.0,345.00 176.0,343.90 177.0,342.78 178.0,341.65 179.0,340.52 180.0,339.37 181.0,338.22 182.0,337.07 183.0,335.91 184.0,334.75 185.0,333.61 186.0,332.49 187.0,331.42 188.0,330.40 189.0,329.44 190.0,328.55 191.0,327.71 192.0,326.93 193.0,326.18 194.0,325.46 195.0,324.75 196.0,324.04 197.0,323.34 198.0,322.63 199.0,321.92 200.0,321.20 201.0,320.47 202.0,319.72 203.0,318.96 204.0,318.18 205.0,317.39 206.0,316.60 207.0,315.80 208.0,315.00 209.0,314.20 210.0,313.40 211.0,312.58 212.0,311.75 213.0,310.90 214.0,310.02 215.0,309.13 216.0,308.23 217.0,307.33 218.0,306.42 219.0,305.52 220.0,304.61 221.0,303.71 222.0,302.82 223.0,301.93 224.0,301.06 225.0,300.20 226.0,299.34 227.0,298.49 228.0,297.64 229.0,296.80 230.0,295.97 231.0,295.15 232.0,294.35 233.0,293.56 234.0,292.79 235.0,292.04 235.8,291.30 236.9,287.00 237.9,285.77 238.9,284.56 239.9,283.40 240.9,282.33 241.9,281.36 242.9,280.50 243.9,279.70 244.9,278.95 245.9,278.22 246.9,277.49 247.9,276.76 248.9,276.03 249.9,275.29 250.9,274.55 251.9,273.81 252.9,273.06 253.9,272.31 254.9,271.54 255.9,270.75 256.9,269.93 257.9,269.05 258.9,268.13 259.9,267.16 260.9,266.14 261.9,265.06 262.9,263.88 263.9,262.55 264.9,261.06 265.9,259.42 266.9,257.64 267.9,255.74 268.9,253.73 269.9,251.62 270.9,249.41 271.9,247.09 272.9,244.60 273.9,241.84 274.9,238.74 275.9,235.28 276.9,231.59 277.9,227.86 278.9,224.30 279.9,221.05 280.9,218.14 281.9,215.54 282.9,213.21 283.9,211.10 284.9,209.17 285.9,207.34 286.9,205.57 287.9,203.85 288.9,202.16 289.9,200.52 290.9,198.92 291.9,197.36 292.9,195.82 293.9,194.31 294.9,192.83 295.9,191.40 296.9,190.03 297.9,188.73 298.9,187.50 299.9,186.34 300.9,185.25 301.9,184.20 302.9,183.20 303.9,182.21 304.9,181.24 305.9,180.26 306.9,179.29 307.9,178.32 308.9,177.36 309.9,176.41 310.9,175.47 311.9,174.54 312.9,173.62 313.9,172.72 314.9,171.82 315.9,170.92 316.9,170.02 317.9,169.13 318.9,168.23 319.9,167.35 320.9,166.48 321.9,165.62 322.9,164.78 323.9,163.95 324.9,163.13 325.9,162.31 326.9,161.49 327.9,160.66 328.9,159.84 329.9,159.01 330.9,158.19 331.9,157.36 332.9,156.53 333.9,155.70 334.9,154.88 335.9,154.05 336.9,153.22 337.9,152.40 338.9,151.58 339.9,150.76 340.9,149.95 341.9,149.15 342.9,148.35 343.9,147.55 344.9,146.77 345.9,145.98 346.9,145.21 347.9,144.44 348.9,143.67 349.9,142.91 350.9,142.15 351.9,141.40 352.9,140.65 353.9,139.90 354.9,139.17 355.9,138.44 356.9,137.73 357.9,137.04 358.9,136.36 359.9,135.69 360.9,135.01 361.9,134.33 362.9,133.66 363.9,132.99 364.9,132.33 365.9,131.67 366.9,131.02 367.9,130.37 368.9,129.72 369.9,129.08 370.9,128.44 371.9,127.81 372.9,127.18 373.9,126.56 374.9,125.93 375.9,125.32 376.9,124.71 377.9,124.10 378.9,123.49 379.9,122.89 380.9,122.30 381.9,121.70 382.9,121.12 383.9,120.53 384.9,119.95 385.9,119.37 386.9,118.80 387.9,118.23 388.9,117.66 389.9,117.10 390.9,116.54 391.9,115.99 392.9,115.44 393.9,114.89 394.9,114.34 395.9,113.80 396.9,113.27 397.9,112.73 398.9,112.20 399.9,111.67 400.9,111.15 401.9,110.63 402.9,110.11 403.9,109.60 404.9,109.09 405.9,108.58 406.9,108.08 407.9,107.58 408.9,107.08 409.9,106.58 410.9,106.09 411.9,105.60 412.9,105.12 413.9,104.64 414.9,104.16 415.9,103.68 416.9,103.21 417.9,102.74 418.9,102.27 419.9,101.80 420.9,101.34 421.9,100.88 422.9,100.43 423.9,99.97 424.9,99.52 425.9,99.07 426.9,98.63 427.9,98.19 428.9,97.75 429.9,97.31 430.9,96.88 431.9,96.45 432.9,96.02 433.9,95.59 434.9,95.17 435.9,94.75 436.9,94.33 437.9,93.91 438.9,93.50 439.9,93.09 440.9,92.68 441.9,92.27 442.9,91.87 443.9,91.47 444.9,91.07 445.9,90.67 446.9,90.28 447.9,89.89 448.9,89.50 449.9,89.11 450.9,88.72 451.9,88.34 452.9,87.96 453.9,87.58 454.9,87.21 455.9,86.83 456.9,86.46 457.9,86.09 458.9,85.73 459.9,85.36 460.9,85.00 461.9,84.64 462.9,84.28 463.9,83.93 464.9,83.57 465.9,83.22 466.9,82.87 467.9,82.52 468.9,82.18 469.9,81.83 470.9,81.49 471.9,81.15 472.9,80.81 473.9,80.48 474.9,80.14 475.9,79.81 476.9,79.48 477.9,79.15 478.9,78.83 479.9,78.50 480.9,78.18 481.9,77.86 482.9,77.54 483.9,77.22 484.9,76.91 485.9,76.59 486.9,76.28 487.9,75.97 488.9,75.66 489.9,75.36 490.9,75.05 491.9,74.75 492.9,74.45 493.9,74.15 494.9,73.85 495.9,73.56 496.9,73.26 497.9,72.97 498.9,72.68 499.9,72.39 500.9,72.10 501.9,71.82 502.9,71.53 503.9,71.25 504.9,70.97 505.9,70.69 506.9,70.41 507.9,70.14 508.9,69.86 509.9,69.59 510.9,69.32 511.9,69.05 512.9,68.78 513.9,68.51 514.9,68.25 515.9,67.98 516.9,67.72 517.9,67.46 518.9,67.20 519.9,66.94 520.9,66.68 521.9,66.43 522.9,66.17 523.9,65.92 524.9,65.67 525.9,65.42 526.9,65.17 527.9,64.92 528.9,64.68 529.9,64.43 530.9,64.19 531.9,63.95 532.9,63.71 533.9,63.47 534.9,63.23 535.9,62.99 536.9,62.76 537.9,62.52 538.9,62.29 539.9,62.06 540.9,61.83 541.9,61.60 542.9,61.37 543.9,61.15 544.9,60.92 545.9,60.70 546.9,60.47 547.9,60.25 548.9,60.03 549.9,59.81 550.9,59.59 551.9,59.37 552.9,59.16 553.9,58.94 554.9,58.73 555.9,58.51 556.9,58.30 557.9,58.09 558.9,57.88 559.9,57.67 560.9,57.46 561.9,57.26 562.9,57.05 563.9,56.85 564.9,56.64 565.9,56.44 566.9,56.24 567.9,56.04 568.9,55.84 569.9,55.64 570.9,55.44 571.9,55.24 572.9,55.04 573.9,54.85 574.9,54.65 575.9,54.46 576.9,54.27 577.9,54.07 578.9,53.88 579.9,53.69 580.9,53.50 581.9,53.31 582.9,53.13 583.9,52.94 584.9,52.75 585.9,52.57 586.9,52.38 587.9,52.20 588.9,52.01 589.9,51.83 590.9,51.65 591.9,51.46 592.9,51.28 593.9,51.10 594.9,50.92 595.9,50.74 596.9,50.56 597.9,50.39 598.9,50.21 599.9,50.03 600.9,49.85 601.9,49.68 602.9,49.50 603.9,49.33 604.9,49.15 605.9,48.98 606.9,48.80 607.9,48.63 608.9,48.46 609.9,48.29 610.9,48.11 611.9,47.94 612.9,47.77 613.9,47.60 614.9,47.43 615.9,47.26 616.9,47.09 617.9,46.92 618.9,46.75 619.9,46.58 620.9,46.41 621.9,46.24 622.9,46.07 623.9,45.90 624.9,45.74 625.9,45.57 626.9,45.40 627.9,45.23 628.9,45.06 629.9,44.90 630.9,44.73 631.9,44.56 632.9,44.39 633.9,44.22 634.9,44.06 635.9,43.89 636.9,43.72 637.9,43.55 638.9,43.38 639.9,43.21 640.9,43.05 641.9,42.88 642.9,42.71 643.9,42.54 644.9,42.37 645.9,42.20 646.9,42.03 647.9,41.86 648.9,41.69 649.9,41.52 650.9,41.35 651.9,41.17 652.9,41.00 653.9,40.83 654.9,40.66 655.9,40.48 656.9,40.31 657.9,40.13 658.9,39.96 659.9,39.78 660.9,39.61 661.9,39.43 662.9,39.25 663.9,39.07 664.9,38.89 665.9,38.71 666.9,38.53 667.5,38.42"/>
</g>
<g stroke-width="2.6" stroke-linecap="round">
<path d="M481.3,241.40 H495.8" stroke="#FF0000"/>
<path d="M481.3,267.45 H495.8" stroke="#00B050"/>
<path d="M481.3,293.50 H495.8" stroke="#A5A5A5"/>
<path d="M481.3,319.55 H495.8" stroke="#00B0F0"/>
<path d="M481.3,345.60 H495.8" stroke="#FFC000"/>
<path d="M481.3,371.65 H495.8" stroke="#7030A0"/>
</g></svg>
<div class="t yl" style="top:384.4px">0</div>
<div class="t yl" style="top:328.9px">5</div>
<div class="t yl" style="top:273.3px">10</div>
<div class="t yl" style="top:217.8px">15</div>
<div class="t yl" style="top:162.3px">20</div>
<div class="t yl" style="top:106.8px">25</div>
<div class="t yl" style="top:51.2px">30</div>
<div class="t yl" style="top:-4.3px">35</div>
<div class="t xl" style="left:29.0px">200</div>
<div class="t xl" style="left:148.7px">300</div>
<div class="t xl" style="left:268.4px">400</div>
<div class="t xl" style="left:388.1px">500</div>
<div class="t xl" style="left:507.8px">600</div>
<div class="t xl" style="left:627.5px">700</div>
<div class="t" style="font-size:24px;left:284.5px;top:437px">Wavelength (nm)</div>
<div class="t" style="font-size:24px;left:-92px;top:191px;width:200px;text-align:center;transform:rotate(-90deg)">Transmittance (%)</div>
<div class="t lg" style="top:231.0px">IC</div>
<div class="t lg" style="top:257.2px">IC/SiO<span class="sub">2</span></div>
<div class="t lg" style="top:283.4px">IC/ZnO</div>
<div class="t lg" style="top:309.6px">IC/SiO<span class="sub">2</span>-ZnO 1:1</div>
<div class="t lg" style="top:335.8px">IC/SiO<span class="sub">2</span>-ZnO 1:2</div>
<div class="t lg" style="top:362.0px">IC/SiO<span class="sub">2</span>-ZnO 1:3</div>
</body></html>
